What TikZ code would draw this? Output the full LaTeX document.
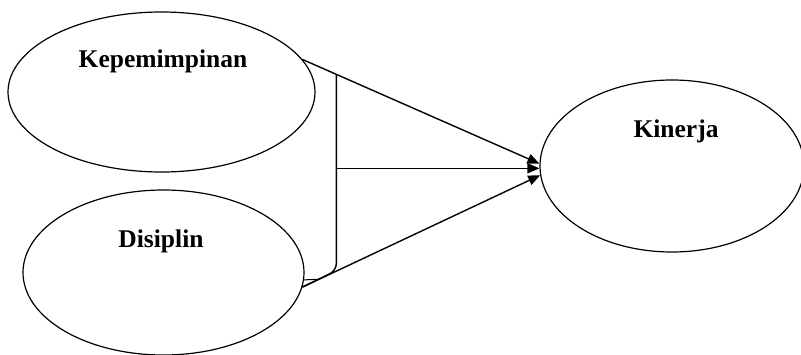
\documentclass[tikz,border=0pt]{standalone}
\usepackage{fontspec}
\setmainfont{Liberation Serif}
\usetikzlibrary{shapes.geometric,arrows.meta,calc}
\begin{document}
\begin{tikzpicture}[x=1pt,y=-1pt,
  oval/.style={draw,ellipse,inner sep=0pt,line width=1.2pt},
  lbl/.style={font=\fontsize{25.5}{30}\selectfont\bfseries,anchor=base,inner sep=0pt},
  conn/.style={line width=1.4pt},
  arr/.style={conn,-{Triangle[length=12pt,width=10pt]}}]
\useasboundingbox (0,0) rectangle (801,354);
\fill[white] (0,0) rectangle (801,354);
\node[oval,minimum width=307pt,minimum height=160pt] (kep) at (161.5,92) {};
\node[oval,minimum width=281pt,minimum height=165pt] (dis) at (163.5,272.5) {};
\node[oval,minimum width=264pt,minimum height=172pt] (kin) at (672,166) {};
\node[lbl] (tkep) at (163,67) {Kepemimpinan};
\node[lbl] (tdis) at (161,247) {Disiplin};
\node[lbl] (tkin) at (676,137) {Kinerja};
\coordinate (btop) at ($(kep.13)!0.143!(kin.179)$);
\coordinate (bbot) at ($(dis.-6)!0.148!(kin.184)$);
\coordinate (m) at (btop |- kin.181);
\coordinate (tri) at ($(dis.-6)!0.07!(kin.184)$);
\draw[arr] (kep.13) -- (kin.179);
\draw[arr] (dis.-6) -- (kin.184);
\draw[arr] (m) -- (kin.181);
\draw[conn,rounded corners=7pt] (btop) -- (btop |- bbot) -- (dis.-6);
\draw[line width=1pt] (dis.-3.5) -- (tri);
\end{tikzpicture}
\end{document}
